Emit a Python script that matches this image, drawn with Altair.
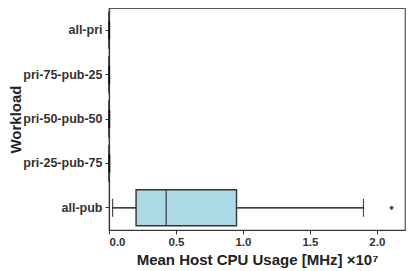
import altair as alt
import pandas as pd

workloads = ["all-pri", "pri-75-pub-25", "pri-50-pub-50", "pri-25-pub-75", "all-pub"]
whisker_low = [0, 0, 0, 0, 0.027e7]
q1 = [4e3, 4e3, 4e3, 5e3, 0.202e7]
median = [8e3, 8e3, 9e3, 1e4, 0.427e7]
q3 = [1.5e4, 1.5e4, 1.8e4, 2e4, 0.952e7]
whisker_high = [4e4, 4e4, 5e4, 6e4, 1.90e7]
outlier_workload = ["all-pub"]
outlier_value = [2.11e7]

df = pd.DataFrame({
    "workload": workloads, "lo": whisker_low, "q1": q1, "med": median,
    "q3": q3, "hi": whisker_high,
})
dout = pd.DataFrame({"workload": outlier_workload, "v": outlier_value})

yscale = alt.Scale(domain=workloads, paddingInner=0.19, paddingOuter=0.095)
xscale = alt.Scale(domain=[0, 2.21e7], nice=False, zero=True)

xax = alt.Axis(
    title="Mean Host CPU Usage [MHz] ×10⁷",
    values=[0, 0.5e7, 1e7, 1.5e7, 2e7],
    labelExpr="format(datum.value / 1e7, '.1f')",
    grid=False, tickSize=4, labelPadding=2, titlePadding=5,
)
yax = alt.Axis(title="Workload", grid=False, tickSize=4, labelPadding=3,
               titleX=-101, titleBaseline="top", titleAngle=270)

Y = alt.Y("workload:N", scale=yscale, axis=yax)

whisk = alt.Chart(df).mark_rule(color="black", strokeWidth=1.2).encode(
    x=alt.X("lo:Q", scale=xscale, axis=xax), x2="hi:Q", y=Y)
box = alt.Chart(df).mark_bar(fill="#ADD8E6", stroke="#333333", strokeWidth=1.4).encode(
    x=alt.X("q1:Q", scale=xscale), x2="q3:Q", y=Y)
med = alt.Chart(df).mark_tick(color="#333333", thickness=1.6, size=36).encode(
    x=alt.X("med:Q", scale=xscale), y=Y)
caplo = alt.Chart(df).mark_tick(color="black", thickness=1.2, size=18).encode(
    x=alt.X("lo:Q", scale=xscale), y=Y)
caphi = alt.Chart(df).mark_tick(color="black", thickness=1.2, size=18).encode(
    x=alt.X("hi:Q", scale=xscale), y=Y)
pts = alt.Chart(dout).mark_point(shape="diamond", filled=True, color="black", size=22).encode(
    x=alt.X("v:Q", scale=xscale), y=Y)

chart = alt.layer(whisk, box, med, caplo, caphi, pts).properties(
    width=296, height=222,
    autosize=alt.AutoSizeParams(type="none"),
    padding={"left": 101, "top": 0, "right": 2, "bottom": 40},
).configure_view(stroke="#555555", strokeWidth=1.2).configure_axis(
    domainColor="#333333", tickColor="#333333", domainWidth=1.2,
    labelFont="Liberation Sans", labelFontWeight="bold", labelFontSize=12.5, labelColor="#333333",
    titleFont="Liberation Sans", titleFontWeight="bold", titleFontSize=15, titleColor="#222222",
).configure_axisX(labelFontSize=11.5)

chart.save("out.html", embed_options={"renderer": "svg", "actions": False})
